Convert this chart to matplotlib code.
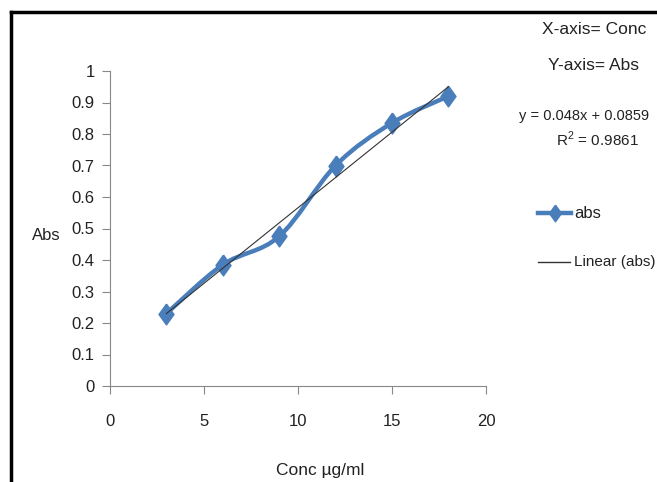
import matplotlib.pyplot as plt
from matplotlib.path import Path
from matplotlib.patches import PathPatch
from matplotlib.lines import Line2D
import numpy as np

# data
conc = [3, 6, 9, 12, 15, 18]
absorb = [0.23, 0.385, 0.475, 0.70, 0.835, 0.92]
slope, intercept = 0.048, 0.0859
eq_text = "y = 0.048x + 0.0859"
r2_text = "R$^2$ = 0.9861"

plt.rcParams['font.family'] = ['Liberation Sans', 'DejaVu Sans']
plt.rcParams['mathtext.fontset'] = 'custom'
plt.rcParams['mathtext.rm'] = 'Liberation Sans'

fig = plt.figure(figsize=(6.57, 4.82), dpi=100)
ax = fig.add_axes([110/657, 1 - 386/482, 376/657, 315/482])

blue = '#4a7ebb'
txt = '#222222'
# slightly tall diamond like the excel marker
diamond = [(0, 1), (0.72, 0), (0, -1), (-0.72, 0), (0, 1)]

# smooth line (excel style) as bezier through the points
x = np.array(conc, float)
y = np.array(absorb, float)
verts = [(x[0], y[0])]
codes = [Path.MOVETO]
t = 1/6
for i in range(len(x) - 1):
    p0 = (x[max(i-1, 0)], y[max(i-1, 0)])
    p1 = (x[i], y[i])
    p2 = (x[i+1], y[i+1])
    p3 = (x[min(i+2, len(x)-1)], y[min(i+2, len(x)-1)])
    c1 = (p1[0] + (p2[0]-p0[0])*t, p1[1] + (p2[1]-p0[1])*t)
    c2 = (p2[0] - (p3[0]-p1[0])*t, p2[1] - (p3[1]-p1[1])*t)
    verts += [c1, c2, p2]
    codes += [Path.CURVE4]*3
ax.add_patch(PathPatch(Path(verts, codes), fill=False, edgecolor=blue, lw=3.2, zorder=3))
ax.plot(conc, absorb, linestyle='none', marker=diamond, ms=15, color=blue, zorder=4)

# trendline
xf = np.array([conc[0], conc[-1]])
ax.plot(xf, slope*xf + intercept, color='#333333', lw=0.8, zorder=5)

ax.set_xlim(0, 20)
ax.set_ylim(0, 1)
ax.set_xticks([0, 5, 10, 15, 20])
ax.set_yticks(np.arange(0, 1.01, 0.1))
ax.set_yticklabels(['0', '0.1', '0.2', '0.3', '0.4', '0.5', '0.6', '0.7', '0.8', '0.9', '1'])
for s in ['top', 'right']:
    ax.spines[s].set_visible(False)
for s in ['left', 'bottom']:
    ax.spines[s].set_color('#888888')
ax.tick_params(axis='both', direction='out', color='#888888', length=6, labelsize=12, labelcolor=txt)
ax.tick_params(axis='x', pad=14)
ax.tick_params(axis='y', pad=5)

fig.text(32/657, 1 - 235/482, 'Abs', fontsize=12, ha='left', va='center', color=txt)
fig.text(320/657, 1 - 470/482, 'Conc \u00b5g/ml', fontsize=12.5, ha='center', va='center', color=txt)

# side notes
fig.text(594/657, 1 - 30/482, 'X-axis= Conc', fontsize=12.5, ha='center', va='center', color=txt)
fig.text(594/657, 1 - 65/482, 'Y-axis= Abs', fontsize=12.5, ha='center', va='center', color=txt)
fig.text(584/657, 1 - 116/482, eq_text, fontsize=10.5, ha='center', va='center', color=txt)
fig.text(597/657, 1 - 139/482, r2_text, fontsize=11, ha='center', va='center', color=txt)

# legend drawn by hand
fig.add_artist(Line2D([538/657, 571/657], [1 - 213/482]*2, color=blue, lw=3.2))
fig.add_artist(Line2D([555/657], [1 - 213/482], marker=diamond, ms=12, color=blue))
fig.text(574/657, 1 - 213/482, 'abs', fontsize=12, ha='left', va='center', color=txt)
fig.add_artist(Line2D([538/657, 570/657], [1 - 262/482]*2, color='#333333', lw=1))
fig.text(574/657, 1 - 262/482, 'Linear (abs)', fontsize=11, ha='left', va='center', color=txt)

# outer black frame
fig.add_artist(Line2D([11/657, 11/657], [-0.05, 1 - 12/482], color='black', lw=2.5))
fig.add_artist(Line2D([11/657, 1.05], [1 - 12/482]*2, color='black', lw=2.5))

fig.savefig('out.png', dpi=100)
